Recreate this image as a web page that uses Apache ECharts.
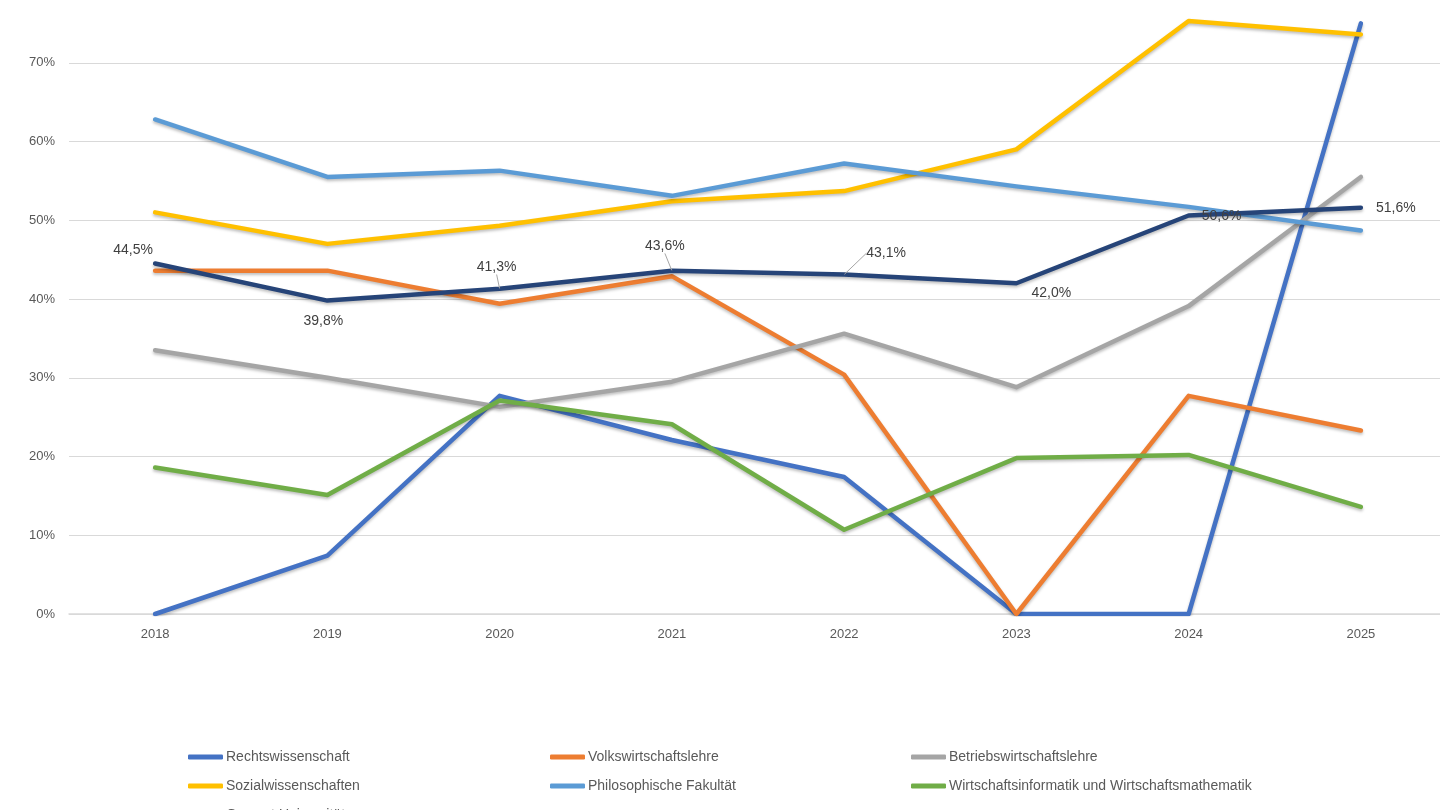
<!DOCTYPE html>
<html><head><meta charset="utf-8">
<script src="https://cdn.jsdelivr.net/npm/echarts@6/dist/echarts.min.js"></script>
<style>html,body{margin:0;padding:0;background:#fff}#c{width:1440px;height:810px}</style>
</head><body><div id="c"></div>
<script>
const years = ['2018','2019','2020','2021','2022','2023','2024','2025'];
const rechtswissenschaft = [0.0, 7.4, 27.7, 22.1, 17.4, 0.0, 0.0, 75.0];
const volkswirtschaftslehre = [43.6, 43.6, 39.4, 42.9, 30.4, 0.0, 27.7, 23.3];
const betriebswirtschaftslehre = [33.5, 30.0, 26.3, 29.5, 35.6, 28.8, 39.1, 55.5];
const sozialwissenschaften = [51.0, 47.0, 49.3, 52.4, 53.7, 59.0, 75.3, 73.6];
const philosophischeFakultaet = [62.8, 55.5, 56.3, 53.1, 57.2, 54.3, 51.7, 48.7];
const wirtschaftsinformatik = [18.6, 15.1, 27.1, 24.1, 10.7, 19.8, 20.2, 13.6];
const gesamt = [44.5, 39.8, 41.3, 43.6, 43.1, 42.0, 50.6, 51.6];
const seriesNames = ['Rechtswissenschaft','Volkswirtschaftslehre','Betriebswirtschaftslehre','Sozialwissenschaften','Philosophische Fakultät','Wirtschaftsinformatik und Wirtschaftsmathematik','Gesamt Universität'];
const seriesData = [rechtswissenschaft, volkswirtschaftslehre, betriebswirtschaftslehre, sozialwissenschaften, philosophischeFakultaet, wirtschaftsinformatik, gesamt];
const colors = ['#4472C4','#ED7D31','#A5A5A5','#FFC000','#5B9BD5','#70AD47','#264478'];

const FONT = '"Liberation Sans Narrow","Liberation Sans",sans-serif';
const fmt = v => v.toFixed(1).replace('.', ',') + '%';
// label offsets [dx, dy] relative to default 'top' label position, Gesamt series
const labelOffsets = [[-22,-1],[-4,33],[-3,-9],[-7,-12],[42,-9],[35,22],[33,13],[35,13]];
const labelLeader = [false,false,true,true,true,false,false,false];

const series = seriesData.map((d, i) => {
  const s = {
    name: seriesNames[i], type: 'line', data: d, symbol: 'none',
    lineStyle: {width: 4.5, color: colors[i], shadowBlur: 3, shadowColor: 'rgba(0,0,0,0.25)', shadowOffsetY: 2, cap: 'round', join: 'round'},
    itemStyle: {color: colors[i]}, z: 2 + i
  };
  if (i === 6) {
    s.symbol = 'circle';
    s.symbolSize = 0.5;
    s.showSymbol = true;
    s.data = d.map((v, k) => ({value: v, labelLine: {show: labelLeader[k]}}));
    s.label = {show: true, position: 'top', formatter: p => fmt(p.value), color: '#404040', fontSize: 14, fontFamily: FONT};
    s.labelLine = {show: false, lineStyle: {color: '#a6a6a6', width: 1}};
    s.labelLayout = p => {
      const o = labelOffsets[p.dataIndex];
      return {dx: o[0], dy: o[1]};
    };
  }
  return s;
});

const legendBase = {
  orient: 'vertical', top: 750, itemWidth: 35, itemHeight: 5, icon: 'roundRect', itemGap: 15, padding: 0,
  textStyle: {color: '#595959', fontSize: 14, fontFamily: FONT, padding: [0,0,0,-2]},
  selectedMode: false
};

const chart = echarts.init(document.getElementById('c'));
chart.setOption({
  backgroundColor: '#fff',
  animation: false,
  color: colors,
  grid: {left: 69, right: -7, top: -16, bottom: 196, containLabel: false, outerBoundsMode: 'none'},
  legend: [
    Object.assign({}, legendBase, {left: 188, data: [seriesNames[0], seriesNames[3]]}),
    Object.assign({}, legendBase, {left: 550, data: [seriesNames[1], seriesNames[4]]}),
    Object.assign({}, legendBase, {left: 911, data: [seriesNames[2], seriesNames[5]]}),
    Object.assign({}, legendBase, {left: 188, top: 808, data: [seriesNames[6]]})
  ],
  xAxis: {
    type: 'category', data: years, boundaryGap: true,
    axisLine: {lineStyle: {color: '#d9d9d9', width: 1.5}},
    axisTick: {show: false},
    axisLabel: {color: '#595959', fontSize: 13, fontFamily: FONT, margin: 14}
  },
  yAxis: {
    type: 'value', min: 0, max: 80, interval: 10,
    axisLine: {show: false}, axisTick: {show: false},
    axisLabel: {color: '#595959', fontSize: 13, fontFamily: FONT, margin: 14, formatter: v => v + '%'},
    splitLine: {lineStyle: {color: '#d9d9d9', width: 1.2}}
  },
  series: series
});
</script>
</body></html>
